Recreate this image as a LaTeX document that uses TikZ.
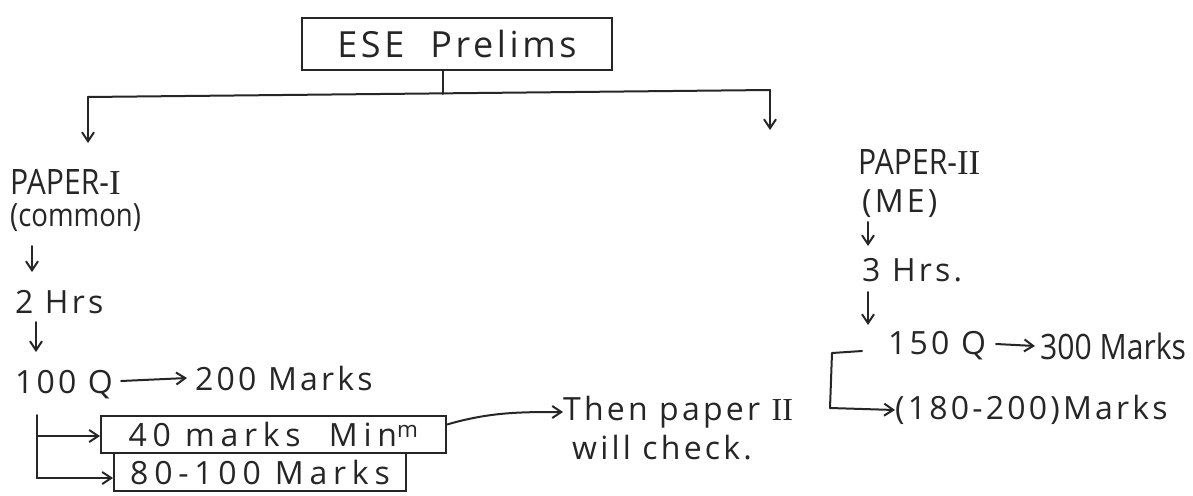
\documentclass[tikz,border=0pt]{standalone}
\usepackage{fontspec}
\setmainfont{Open Sans}
\newfontfamily\hand[LetterSpace=10]{Open Sans}
\newfontfamily\handwide[LetterSpace=18]{Open Sans}
\newfontfamily\handtall[FakeStretch=0.86]{Open Sans}
\newfontfamily\romnum{Liberation Serif}
\usetikzlibrary{arrows.meta}
\begin{document}
\begin{tikzpicture}[x=1pt,y=-1pt,
  ink/.style={draw=black!85, line width=2pt, line cap=round, line join=round},
  arr/.style={ink, -{Straight Barb[length=9pt,width=12pt,line width=2pt]}},
  lbl/.style={inner sep=0pt, text=black!85, font=\hand\fontsize{32}{35}\selectfont},
  tall/.style={lbl, font=\handtall\fontsize{35}{38}\selectfont},
  boxed/.style={lbl, draw=black!85, line width=2pt, inner xsep=6pt, inner ysep=5pt,
    font=\handwide\fontsize{32}{35}\selectfont}]
\useasboundingbox (0,0) rectangle (1193,495);
\fill[white] (0,0) rectangle (1193,495);

% root
\node[boxed, minimum width=310pt, minimum height=52pt, font=\hand\fontsize{36}{39}\selectfont] (root) at (457,44) {ESE\ \ Prelims};
\coordinate (split) at (443,94);
\coordinate (lc) at (88,97);
\coordinate (rc) at (770,90);
\draw[ink] (root.south -| split) -- (split);
\draw[ink] (lc) -- (rc);

% paper I branch
\draw[arr] (lc) -- (lc |- 0,143);
\node[tall, anchor=west] (p1) at (10,182) {PAPER-{\romnum I}};
\node[tall, anchor=west, font=\handtall\fontsize{32}{35}\selectfont] (p1b) at (10,218) {(common)};
\draw[arr] (32,246) -- (32,272);
\node[lbl, anchor=west] (h2) at (15,302) {2 Hrs};
\draw[arr] (36,322) -- (36,352);
\node[lbl, anchor=west] (q100) at (15,385) {100 Q};
\node[lbl, anchor=west] (m200) at (195,378) {200 Marks};
\draw[arr] (q100.east) ++(8,-4) -- ([xshift=-8pt]m200.west);

\node[boxed, anchor=north west, minimum width=345pt, minimum height=37pt] (b1) at (100,415) {40 marks\ \ Min\textsuperscript{m}};
\node[boxed, anchor=north west, minimum width=292pt, minimum height=38pt] (b2) at (113,452) {80-100 Marks};
\coordinate (br) at (37,415);
\draw[ink] (br) -- (37,478);
\draw[arr] (37,436) -- (b1.west |- 0,436);
\draw[arr] (37,478) -- (b2.west |- 0,478);

\node[lbl, anchor=west] (then) at (563,412) {Then paper {\romnum II}};
\node[lbl, anchor=west] (will) at (572,448) {will check.};
\draw[arr] (b1.east) ++(0,-10) .. controls (490,412) and (520,412) .. (then.west);

% paper II branch
\draw[arr] (rc) -- (rc |- 0,130);
\node[tall, anchor=west] (p2) at (858,162) {PAPER-{\romnum II}};
\node[lbl, anchor=west] (p2b) at (862,204) {(ME)};
\draw[arr] (868,222) -- (868,246);
\node[lbl, anchor=west] (h3) at (862,270) {3 Hrs.};
\draw[arr] (868,292) -- (868,325);
\node[lbl, anchor=west] (q150) at (888,346) {150 Q};
\node[tall, anchor=west] (m300) at (1040,346) {300 Marks};
\draw[arr] (996,344) -- ([xshift=-5pt]m300.west);
\node[lbl, anchor=west] (m180) at (895,410) {(180-200)Marks};
\draw[ink] (862,351) -- (832,353) -- (830,408);
\draw[arr] (830,408) -- (m180.west);
\end{tikzpicture}
\end{document}
